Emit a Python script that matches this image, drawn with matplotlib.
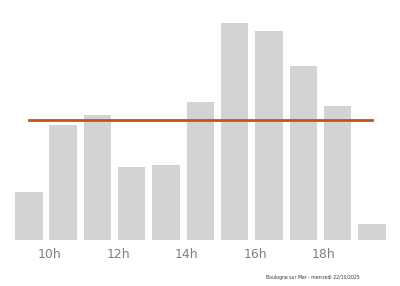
import matplotlib
matplotlib.use("Agg")
import matplotlib.pyplot as plt
import numpy as np

# heures et valeurs
heures = [9, 10, 11, 12, 13, 14, 15, 16, 17, 18, 19]
valeurs = [48, 115, 125, 73.5, 75, 138, 217, 209.5, 174, 134, 16]
ticks = [10, 12, 14, 16, 18]
tick_labels = ["10h", "12h", "14h", "16h", "18h"]
legende = "Boulogne sur Mer - mercredi 22/10/2025"

moyenne = np.mean(valeurs)

fig = plt.figure(figsize=(4, 2.86), dpi=100)
ax = fig.add_axes([0, 1 - 240 / 286, 1, 240 / 286])

ax.bar(heures, valeurs, width=0.8, align="edge", color="#d3d3d3")
centres = [h + 0.4 for h in heures]
ax.plot([centres[0], centres[-1]], [moyenne, moyenne], color="#c8501e", lw=2)

ax.set_xlim(8.56, 20.22)
ax.set_ylim(0, 240)
ax.set_xticks(ticks)
ax.set_xticklabels(tick_labels, color="#808080", fontsize=9)
ax.tick_params(axis="x", length=0, pad=6)
ax.set_yticks([])
for s in ax.spines.values():
    s.set_visible(False)

fig.text(0.783, 1 - 278 / 286, legende, fontsize=3.3, ha="center", va="center", color="#333333")

fig.savefig("out.png", dpi=100)
